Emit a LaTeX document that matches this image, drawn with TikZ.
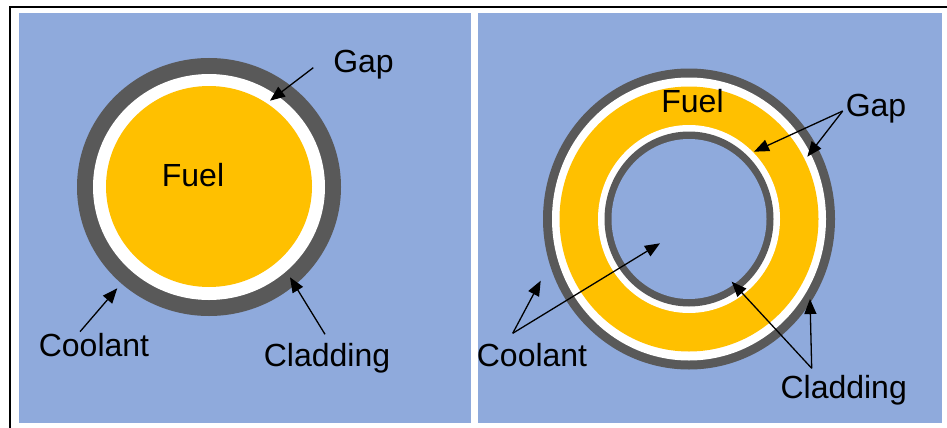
\documentclass[tikz,border=0pt]{standalone}
\usepackage{fontspec}
\setmainfont{Liberation Sans}
\usetikzlibrary{arrows.meta}
\definecolor{coolant}{HTML}{8FAADC}
\definecolor{clad}{HTML}{595959}
\definecolor{fuel}{HTML}{FFC000}
\tikzset{
  lbl/.style={inner sep=0pt, anchor=base, font=\fontsize{32}{38}\selectfont},
  ptr/.style={line width=1.3pt, -{Triangle[length=15pt,width=12pt]}},
  panel/.style={fill=coolant, draw=none}
}
\begin{document}
\begin{tikzpicture}[x=1pt,y=-1pt]
\useasboundingbox (0,0) rectangle (947,428);
\fill[white] (0,0) rectangle (947,428);
% frame lines
\draw[line width=2pt] (10,428) -- (10,7) -- (947,7);
% coolant panels
\fill[panel] (19,13) rectangle (471,423);
\fill[panel] (478,13) rectangle (942,423);

% ---- solid fuel rod ----
\fill[clad]  (209,187) ellipse [x radius=132, y radius=129];
\fill[white] (209,187) ellipse [x radius=116, y radius=113];
\fill[fuel]  (209,186.5) ellipse [x radius=103, y radius=100.5];

\node[lbl] (fuelA) at (193,186) {Fuel};
\node[lbl] (gapA) at (363.5,72.7) {Gap};
\node[lbl] (coolA) at (94,356) {Coolant};
\node[lbl] (cladA) at (327,366.7) {Cladding};

\coordinate (gapAs) at (313.3,67.7);
\coordinate (gapAt) at (270,100.7);
\coordinate (coolAs) at (80,331.7);
\coordinate (coolAt) at (117.3,288.3);
\coordinate (cladAs) at (325,334.3);
\coordinate (cladAt) at (290,277.3);
\draw[ptr] (gapAs) -- (gapAt);
\draw[ptr] (coolAs) -- (coolAt);
\draw[ptr] (cladAs) -- (cladAt);

% ---- annular fuel rod ----
\fill[clad]    (689,219) ellipse [x radius=146, y radius=150.5];
\fill[white]   (689,219) ellipse [x radius=137, y radius=141.5];
\fill[fuel]    (689,219) ellipse [x radius=129.5, y radius=132.5];
\fill[white]   (689,219) ellipse [x radius=91, y radius=94];
\fill[clad]    (689,219) ellipse [x radius=84.5, y radius=87.5];
\fill[coolant] (689,219) ellipse [x radius=77.5, y radius=80];

\node[lbl] (fuelB) at (692.5,112.7) {Fuel};
\node[lbl] (gapB) at (876,116.7) {Gap};
\node[lbl] (coolB) at (532,366.7) {Coolant};
\node[lbl] (cladB) at (843.7,398.3) {Cladding};

\coordinate (gapBs) at (842.7,111);
\coordinate (gapBt1) at (754,151.7);
\coordinate (gapBt2) at (807.3,156.7);
\coordinate (coolBs) at (512.7,333.3);
\coordinate (coolBt1) at (540.7,280.7);
\coordinate (coolBt2) at (660,243.3);
\coordinate (cladBs) at (811.7,368.3);
\coordinate (cladBt1) at (731.7,281.7);
\coordinate (cladBt2) at (810,299);
\draw[ptr] (gapBs) -- (gapBt1);
\draw[ptr] (gapBs) -- (gapBt2);
\draw[ptr] (coolBs) -- (coolBt1);
\draw[ptr] (coolBs) -- (coolBt2);
\draw[ptr] (cladBs) -- (cladBt1);
\draw[ptr] (cladBs) -- (cladBt2);
\end{tikzpicture}
\end{document}
